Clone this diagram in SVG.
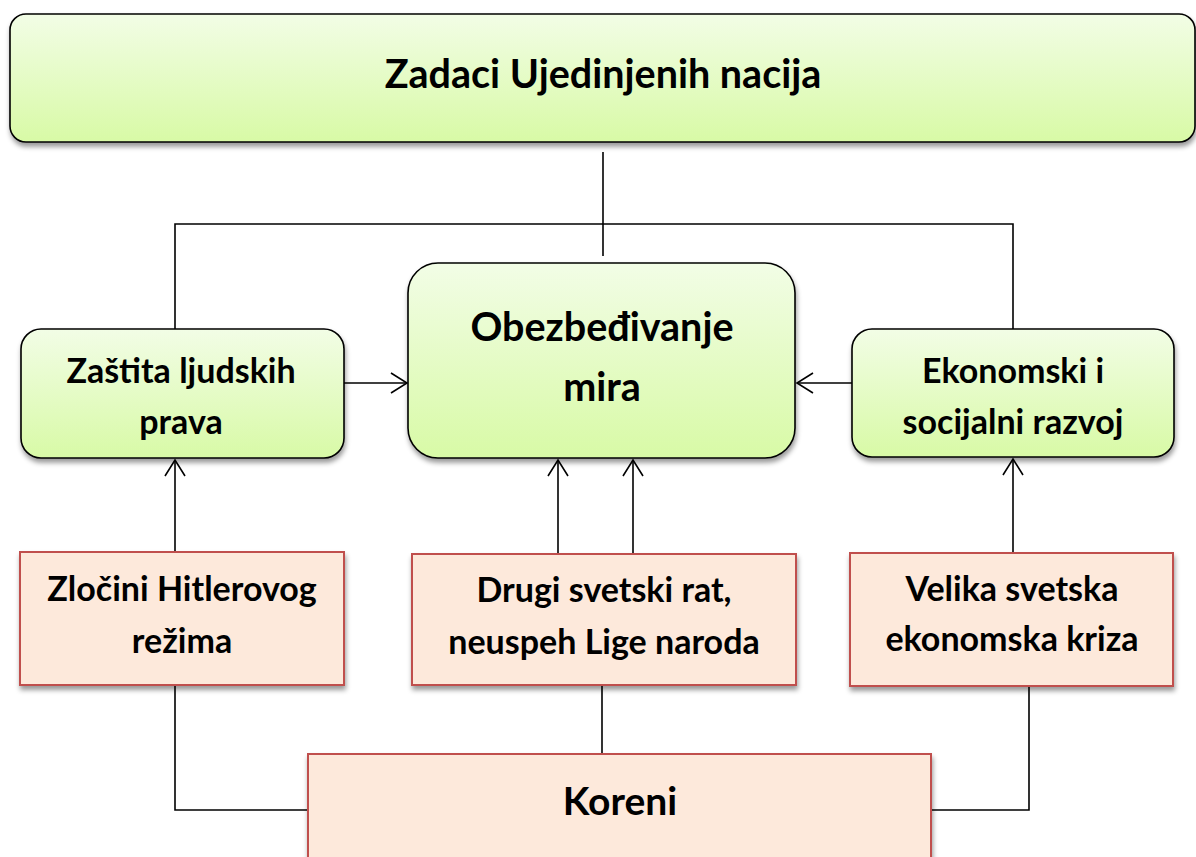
<svg xmlns="http://www.w3.org/2000/svg" width="1196" height="857" viewBox="0 0 1196 857">
<defs>
<linearGradient id="g" x1="0" y1="0" x2="0" y2="1">
<stop offset="0" stop-color="#f2fde6"/>
<stop offset="1" stop-color="#d8faa6"/>
</linearGradient>
<filter id="sh" x="-5%" y="-10%" width="110%" height="130%">
<feDropShadow dx="1" dy="4" stdDeviation="2.5" flood-color="#000" flood-opacity="0.4"/>
</filter>
<marker id="ar" markerUnits="userSpaceOnUse" markerWidth="24" markerHeight="24" viewBox="-18 -12 20 24" refX="0" refY="0" orient="auto">
<path d="M-16,-10 L0,0 L-16,10" fill="none" stroke="#000" stroke-width="1.6"/>
</marker>
<style>
.gb{fill:url(#g);stroke:#000;stroke-width:1.6;filter:url(#sh)}
.pb{fill:#fde9db;stroke:#c0504d;stroke-width:2;filter:url(#sh)}
.t{font-family:Lato,"Open Sans","Liberation Sans",sans-serif;font-weight:bold;fill:#000;text-anchor:middle}
.s{font-size:34px}
.c{fill:none;stroke:#000;stroke-width:1.6}
</style>
</defs>
<g id="connectors">
<path class="c" d="M603,152 V256"/>
<path class="c" d="M175,329 V224 H1013 V329"/>
<path class="c" d="M344,383 H407" marker-end="url(#ar)"/>
<path class="c" d="M852,383 H797" marker-end="url(#ar)"/>
<path class="c" d="M175,552 V460" marker-end="url(#ar)"/>
<path class="c" d="M558,554 V460" marker-end="url(#ar)"/>
<path class="c" d="M633,554 V460" marker-end="url(#ar)"/>
<path class="c" d="M1013,553 V459" marker-end="url(#ar)"/>
<path class="c" d="M175,685 V810 H308"/>
<path class="c" d="M602,685 V754"/>
<path class="c" d="M1029,686 V810 H931"/>
</g>
<g id="n-top">
<rect class="gb" x="10" y="14" width="1185" height="128" rx="16"/>
<text class="t" x="603" y="88" font-size="39.5">Zadaci Ujedinjenih nacija</text>
</g>
<g id="n-zastita">
<rect class="gb" x="21" y="329" width="323" height="129" rx="20"/>
<text class="t s" x="181" y="383">Zaštita ljudskih</text>
<text class="t s" x="181" y="434">prava</text>
</g>
<g id="n-mir">
<rect class="gb" x="408" y="263" width="387" height="195" rx="30"/>
<text class="t" x="602" y="341" font-size="39.5">Obezbeđivanje</text>
<text class="t" x="602" y="401" font-size="39.5">mira</text>
</g>
<g id="n-ekonomski">
<rect class="gb" x="852" y="329" width="322" height="128" rx="20"/>
<text class="t s" x="1013" y="383">Ekonomski i</text>
<text class="t s" x="1013" y="434">socijalni razvoj</text>
</g>
<g id="n-zlocini">
<rect class="pb" x="20" y="552" width="324" height="133"/>
<text class="t s" x="182" y="601">Zločini Hitlerovog</text>
<text class="t s" x="182" y="653">režima</text>
</g>
<g id="n-rat">
<rect class="pb" x="412" y="554" width="384" height="131"/>
<text class="t s" x="604" y="602">Drugi svetski rat,</text>
<text class="t s" x="604" y="654">neuspeh Lige naroda</text>
</g>
<g id="n-kriza">
<rect class="pb" x="850" y="553" width="323" height="133"/>
<text class="t s" x="1012" y="601">Velika svetska</text>
<text class="t s" x="1012" y="651">ekonomska kriza</text>
</g>
<g id="n-koreni">
<rect class="pb" x="308" y="754" width="623" height="120"/>
<text class="t" x="620" y="815" font-size="39">Koreni</text>
</g>
</svg>
